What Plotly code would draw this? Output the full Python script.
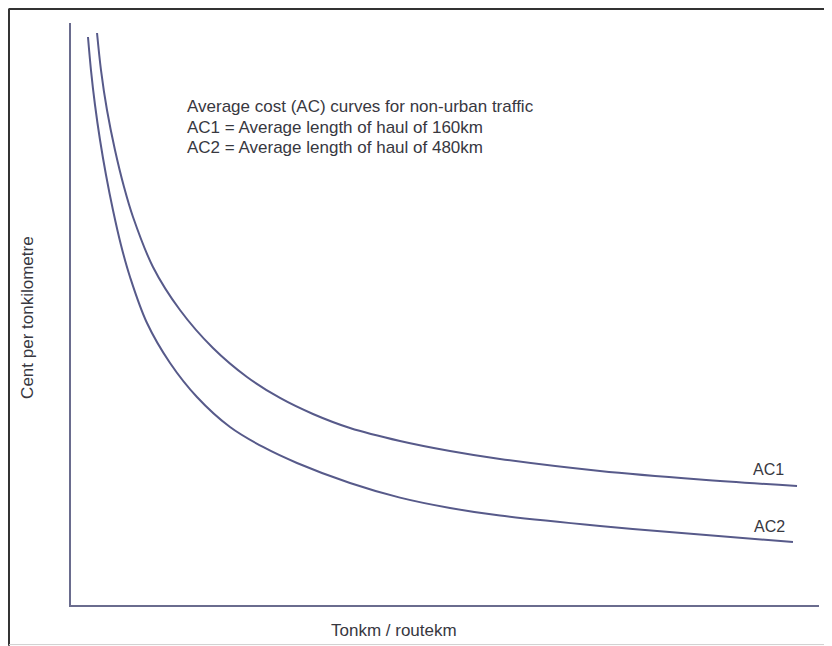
import plotly.graph_objects as go

# Tonkm / routekm (relative scale 0-100) and cent per tonkilometre (relative scale 0-100)
ac1_x = [3.48, 4.01, 4.81, 5.88, 7.09, 8.29, 10.96, 14.57, 18.98, 23.53, 27.94, 32.35, 37.30,
         43.98, 50.67, 57.35, 70.72, 84.09, 97.06]
ac1_y = [98.28, 91.92, 85.05, 78.18, 71.82, 66.67, 58.08, 50.69, 44.16, 39.18, 35.57, 32.82, 30.41,
         28.18, 26.46, 25.09, 23.02, 21.56, 20.45]

ac2_x = [2.27, 2.67, 3.21, 3.88, 4.68, 5.61, 6.68, 7.89, 10.16, 13.24, 16.84, 21.26, 25.67, 30.21,
         37.30, 43.98, 50.67, 57.35, 70.72, 84.09, 96.52]
ac2_y = [97.59, 91.92, 85.91, 79.90, 73.88, 67.87, 61.86, 56.36, 48.45, 41.58, 35.74, 30.58, 27.15,
         24.40, 20.96, 18.45, 16.67, 15.36, 13.57, 12.10, 10.82]

series_names = ["AC1", "AC2"]
note_lines = [
    "Average cost (AC) curves for non-urban traffic",
    "AC1 = Average length of haul of 160km",
    "AC2 = Average length of haul of 480km",
]
x_title = "Tonkm / routekm"
y_title = "Cent per tonkilometre"

curve_color = "#575a8a"
axis_color = "#6a6c8e"
text_color = "#38383f"
font_family = "Liberation Sans, Arial, sans-serif"

fig = go.Figure()
for name, xs, ys in [(series_names[0], ac1_x, ac1_y), (series_names[1], ac2_x, ac2_y)]:
    fig.add_trace(go.Scatter(
        x=xs, y=ys, mode="lines", name=name,
        line=dict(color=curve_color, width=2, shape="spline", smoothing=1.0),
        showlegend=False, hoverinfo="skip",
    ))

annotations = [
    dict(x=ac1_x[-1], y=ac1_y[-1], xref="x", yref="y", text=series_names[0],
         showarrow=False, xanchor="right", yanchor="middle", xshift=-11, yshift=16,
         font=dict(size=16, color=text_color, family=font_family)),
    dict(x=ac2_x[-1], y=ac2_y[-1], xref="x", yref="y", text=series_names[1],
         showarrow=False, xanchor="right", yanchor="middle", xshift=-6, yshift=16,
         font=dict(size=16, color=text_color, family=font_family)),
    dict(x=-0.0575, y=0.495, xref="paper", yref="paper", text=y_title,
         showarrow=False, textangle=-90, xanchor="center", yanchor="middle",
         font=dict(size=17, color=text_color, family=font_family)),
    dict(x=0.432, y=-0.043, xref="paper", yref="paper", text=x_title,
         showarrow=False, xanchor="center", yanchor="middle",
         font=dict(size=17, color=text_color, family=font_family)),
]
note_y = [85.57, 82.13, 78.69]
for line_text, ny in zip(note_lines, note_y):
    annotations.append(dict(
        x=15.3, y=ny, xref="x", yref="y", text=line_text,
        showarrow=False, xanchor="left", yanchor="middle", align="left",
        font=dict(size=17, color=text_color, family=font_family)))

shapes = [
    # outer frame: left, top, bottom
    dict(type="line", xref="paper", yref="paper", x0=-0.0829, x1=-0.0829, y0=-0.07, y1=1.025,
         line=dict(color="#333333", width=2)),
    dict(type="line", xref="paper", yref="paper", x0=-0.0829, x1=1.03, y0=1.024, y1=1.024,
         line=dict(color="#333333", width=2)),
    dict(type="line", xref="paper", yref="paper", x0=-0.0829, x1=1.03, y0=-0.068, y1=-0.068,
         line=dict(color="#cfcfcf", width=1)),
]

fig.update_layout(
    width=824, height=638,
    margin=dict(l=63, r=13, t=15, b=41),
    paper_bgcolor="white", plot_bgcolor="white",
    annotations=annotations, shapes=shapes,
    xaxis=dict(range=[0, 100], showline=True, linecolor=axis_color, linewidth=2,
               showgrid=False, zeroline=False, showticklabels=False, ticks=""),
    yaxis=dict(range=[0, 100], showline=True, linecolor=axis_color, linewidth=2,
               showgrid=False, zeroline=False, showticklabels=False, ticks=""),
)

fig.write_html("out.html")
